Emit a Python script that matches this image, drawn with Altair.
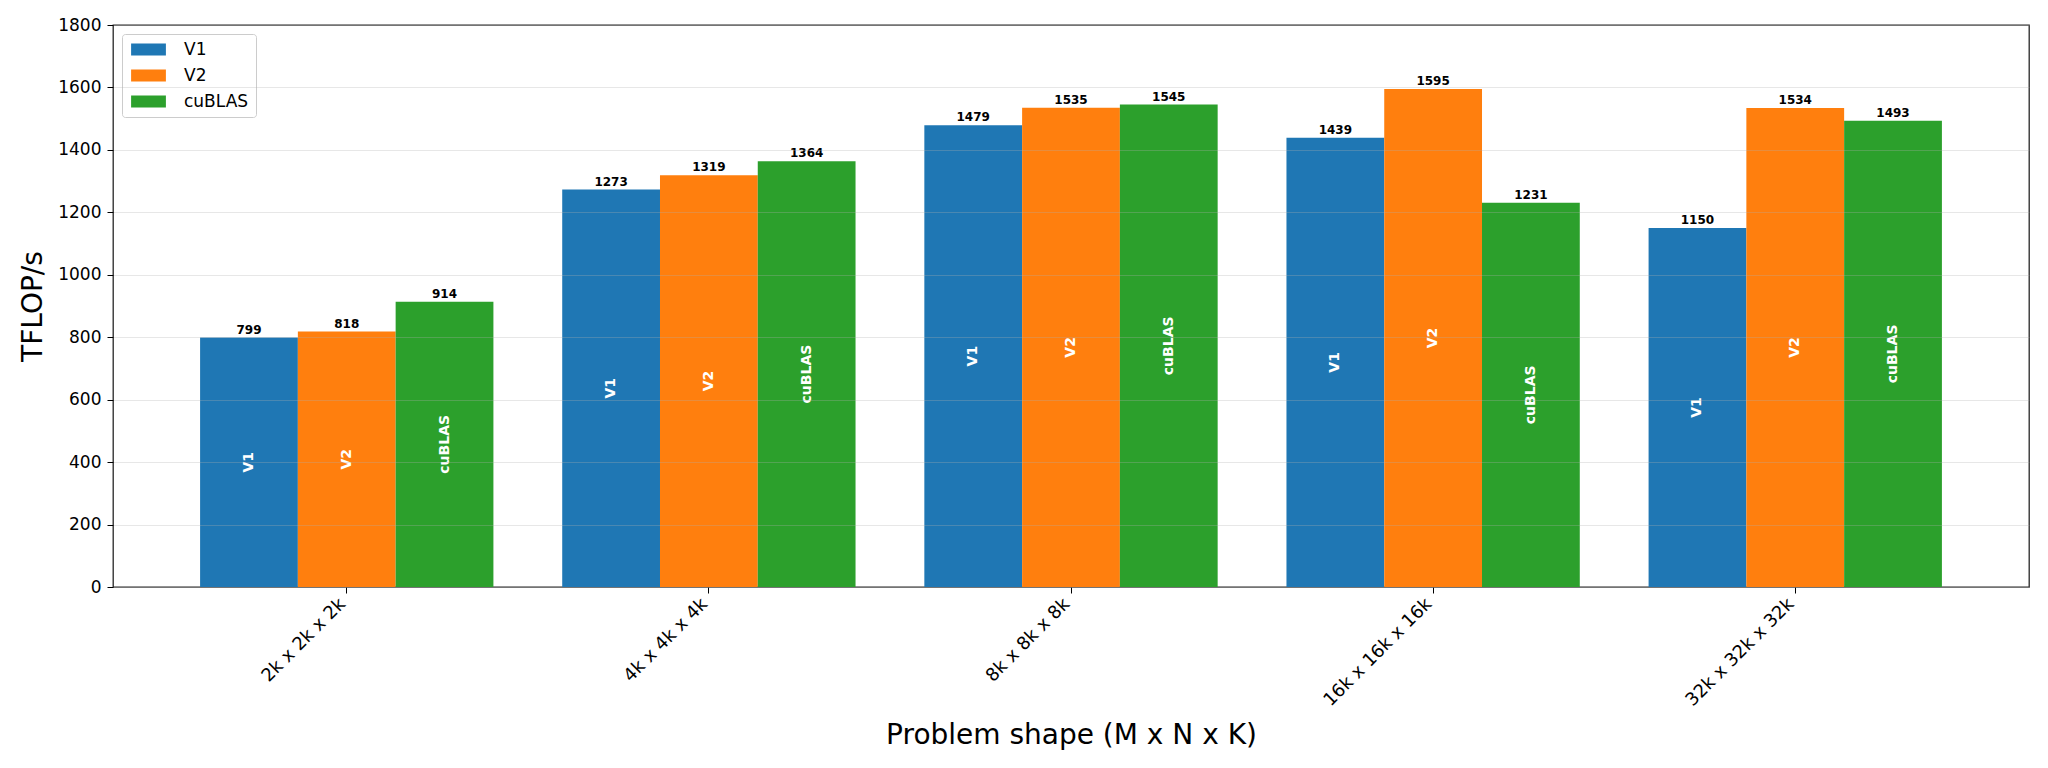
import altair as alt
import pandas as pd

# values
shapes = ["2k x 2k x 2k", "4k x 4k x 4k", "8k x 8k x 8k", "16k x 16k x 16k", "32k x 32k x 32k"]
series = ["V1", "V2", "cuBLAS"]
v1 = [799, 1273, 1479, 1439, 1150]
v2 = [818, 1319, 1535, 1595, 1534]
cublas = [914, 1364, 1545, 1231, 1493]
colors = ["#1f77b4", "#ff7f0e", "#2ca02c"]
y_ticks = [0, 200, 400, 600, 800, 1000, 1200, 1400, 1600, 1800]

rows = []
for name, vals in zip(series, [v1, v2, cublas]):
    for shape, v in zip(shapes, vals):
        rows.append({"shape": shape, "series": name, "value": v, "half": v / 2})
df = pd.DataFrame(rows)

FONT = "DejaVu Sans"
W, H = 1916, 562

x_enc = alt.X(
    "shape:N",
    sort=shapes,
    scale=alt.Scale(paddingInner=0.19, paddingOuter=0.2405),
    axis=alt.Axis(
        title="Problem shape (M x N x K)",
        titleFontSize=28,
        titleFontWeight="normal",
        titleY=156,
        titleBaseline="alphabetic",
        labelAngle=315,
        labelAlign="right",
        labelBaseline="middle",
        labelFontSize=18,
        labelPadding=8,
        labelOffset=-4,
        tickSize=6,
        domain=False,
    ),
)
xoff = alt.XOffset("series:N", sort=series, scale=alt.Scale(paddingInner=0, paddingOuter=0))
y_scale = alt.Scale(domain=[0, 1800], nice=False)

bars = (
    alt.Chart(df)
    .mark_bar()
    .encode(
        x=x_enc,
        xOffset=xoff,
        y=alt.Y(
            "value:Q",
            scale=y_scale,
            axis=alt.Axis(
                title="TFLOP/s",
                values=y_ticks,
                format="d",
                titleFontSize=28,
                titleFontWeight="normal",
                titleAngle=270,
                titleX=-80,
                titleY=H / 2,
                titleAlign="center",
                titleBaseline="middle",
                labelFontSize=17,
                labelPadding=6,
                tickSize=6,
                grid=True,
                gridColor="#b0b0b0",
                gridOpacity=0.3,
                domain=False,
                zindex=1,
            ),
        ),
        color=alt.Color(
            "series:N",
            sort=series,
            scale=alt.Scale(domain=series, range=colors),
            legend=alt.Legend(
                title=None,
                orient="none",
                legendX=9,
                legendY=9,
                symbolType="M-2.9,-1L2.9,-1L2.9,1L-2.9,1Z",
                symbolSize=144,
                symbolStrokeWidth=0,
                symbolOpacity=1,
                symbolOffset=11,
                labelOffset=27,
                labelFontSize=17,
                labelFont=FONT,
                labelColor="black",
                rowPadding=8,
                padding=7,
                fillColor="white",
                strokeColor="#cccccc",
                cornerRadius=3,
            ),
        ),
    )
)

top_text = (
    alt.Chart(df)
    .mark_text(dy=-4, baseline="alphabetic", fontWeight="bold", fontSize=12, font=FONT, color="black")
    .encode(x=x_enc, xOffset=xoff, y=alt.Y("value:Q", scale=y_scale), text="value:Q")
)

inner_text = (
    alt.Chart(df)
    .mark_text(angle=270, align="center", baseline="middle", fontWeight="bold", fontSize=14,
               font=FONT, color="white")
    .encode(x=x_enc, xOffset=xoff, y=alt.Y("half:Q", scale=y_scale), text="series:N")
)

chart = (
    alt.layer(bars, top_text, inner_text)
    .properties(
        width=W,
        height=H,
        autosize=alt.AutoSizeParams(type="none"),
        padding={"left": 105, "top": 17, "right": 3, "bottom": 165},
    )
    .configure(font=FONT)
    .configure_axis(labelColor="black", titleColor="black", tickColor="black", labelFont=FONT, titleFont=FONT)
    .configure_view(stroke="#262626", strokeWidth=1.3)
)

chart.save("out.html", embed_options={"renderer": "svg", "actions": False})
